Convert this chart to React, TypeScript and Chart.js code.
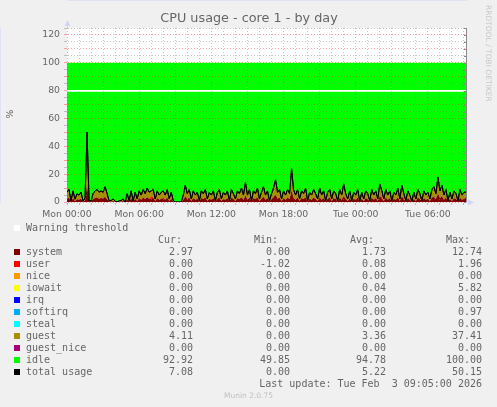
import React, { useEffect, useRef } from "react"
import { Chart, registerables } from "chart.js"

Chart.register(...registerables)

// 10-minute samples starting Mon 00:00 (percent of one core)
const systemVals = [
  2.5, 3.1, 0.3, 2.8, 0.6, 2.0,
  1.8, 2.4, 0.2, 1.1, 12.7, 0.3,
  0.2, 2.1, 2.9, 3.2, 2.4, 2.8,
  2.5, 3.8, 2.0, 0.3, 0.3, 0.8,
  0.2, 0, 0.3, 0.4, 0.8, 0,
  2.1, 0.3, 2.9, 0.2, 2.4, 0.8,
  2.8, 1.7, 3.2, 2.1, 3.5, 2.4,
  2.1, 3.2, 0.8, 2.8, 1.7, 2.4,
  2.8, 1.7, 3.2, 0.8, 2.4, 0.3,
  0, 0, 0, 0, 1.7, 4.2,
  2.1, 3.2, 0.8, 2.8, 1.7, 2.4,
  0.3, 2.8, 2.1, 3.2, 0.8, 2.4,
  1.7, 2.8, 0.3, 2.4, 3.2, 0.8,
  2.4, 1.7, 2.8, 0.3, 3.2, 2.1,
  0.8, 2.8, 2.1, 3.5, 1.7, 4.9,
  1.7, 3.2, 0.3, 2.8, 2.1, 3.5,
  0.8, 2.4, 3.8, 1.7, 2.8, 0.3,
  2.1, 3.5, 5.6, 2.4, 3.2, 0.8,
  2.8, 1.7, 3.2, 2.1, 8.4, 2.8,
  1.7, 3.2, 0.8, 2.8, 2.1, 3.5,
  0.3, 2.4, 1.7, 3.2, 2.1, 0.8,
  3.5, 1.7, 2.8, 0.3, 2.4, 3.2,
  0.8, 2.8, 2.1, 0.3, 3.2, 1.7,
  4.5, 2.1, 0.8, 2.8, 0.3, 2.4,
  1.7, 3.2, 0.2, 2.4, 0.8, 2.8,
  2.1, 0.3, 3.2, 1.7, 2.8, 0.8,
  4.5, 2.4, 0.8, 3.2, 1.7, 2.8,
  0.3, 2.4, 1.7, 3.5, 0.8, 4.2,
  2.1, 0.3, 2.8, 1.7, 0.2, 2.4,
  0.8, 3.2, 2.1, 0.3, 2.8, 1.7,
  2.4, 0.8, 3.2, 3.8, 2.1, 6.3,
  2.8, 4.2, 1.7, 3.2, 0.3, 2.4,
  0.8, 2.8, 2.1, 0.3, 3.2, 1.7,
  2.4, 3.0,
]

const guestVals = [
  4.5, 5.9, 0.6, 5.2, 1.4, 4.0,
  3.2, 4.6, 0.4, 1.9, 37.4, 0.6,
  0.4, 3.9, 5.1, 5.8, 4.6, 5.2,
  4.5, 7.2, 4.0, 0.6, 0.7, 1.4,
  0.4, 0, 0.6, 0.6, 1.4, 0,
  3.9, 0.6, 5.1, 0.4, 4.6, 1.4,
  5.2, 3.3, 5.8, 3.9, 6.5, 4.6,
  3.9, 5.8, 1.4, 5.2, 3.3, 4.6,
  5.2, 3.3, 5.8, 1.4, 4.6, 0.7,
  0, 0, 0, 0, 3.3, 7.8,
  3.9, 5.8, 1.4, 5.2, 3.3, 4.6,
  0.6, 5.2, 3.9, 5.8, 1.4, 4.6,
  3.3, 5.2, 0.6, 4.6, 5.8, 1.4,
  4.6, 3.3, 5.2, 0.6, 5.8, 3.9,
  1.4, 5.2, 3.9, 6.5, 3.3, 9.1,
  3.3, 5.8, 0.6, 5.2, 3.9, 6.5,
  1.4, 4.6, 7.2, 3.3, 5.2, 0.6,
  3.9, 6.5, 10.4, 4.6, 5.8, 1.4,
  5.2, 3.3, 5.8, 3.9, 15.6, 5.2,
  3.3, 5.8, 1.4, 5.2, 3.9, 6.5,
  0.6, 4.6, 3.3, 5.8, 3.9, 1.4,
  6.5, 3.3, 5.2, 0.6, 4.6, 5.8,
  1.4, 5.2, 3.9, 0.6, 5.8, 3.3,
  8.5, 3.9, 1.4, 5.2, 0.6, 4.6,
  3.3, 5.8, 0.4, 4.6, 1.4, 5.2,
  3.9, 0.6, 5.8, 3.3, 5.2, 1.4,
  8.5, 4.6, 1.4, 5.8, 3.3, 5.2,
  0.6, 4.6, 3.3, 6.5, 1.4, 7.8,
  3.9, 0.6, 5.2, 3.3, 0.4, 4.6,
  1.4, 5.8, 3.9, 0.6, 5.2, 3.3,
  4.6, 1.4, 5.8, 7.2, 3.9, 11.7,
  5.2, 7.8, 3.3, 5.8, 0.6, 4.6,
  1.4, 5.2, 3.9, 0.6, 5.8, 3.3,
  4.6, 4.1,
]

// [minute, value]; user is zero elsewhere
const userSpikes: [number, number][] = [
  [420, 1.96],
  [1130, 0.8],
  [1570, 1.2],
]

const xTickLabels = ["Mon 00:00", "Mon 06:00", "Mon 12:00", "Mon 18:00", "Tue 00:00", "Tue 06:00"]
const yTickLabels = ["0", "20", "40", "60", "80", "100", "120"]
const warningLevel = 80

const seriesNames = ["system", "user", "nice", "iowait", "irq", "softirq", "steal", "guest", "guest_nice", "idle", "total usage"]
const seriesColors = ["#800000", "#ff0000", "#ff9900", "#ffff00", "#0000ff", "#00aaff", "#00ffff", "#a89000", "#aa0077", "#00ff00", "#000000"]
const curVals = ["2.97", "0.00", "0.00", "0.00", "0.00", "0.00", "0.00", "4.11", "0.00", "92.92", "7.08"]
const minVals = ["0.00", "-1.02", "0.00", "0.00", "0.00", "0.00", "0.00", "0.00", "0.00", "49.85", "0.00"]
const avgVals = ["1.73", "0.08", "0.00", "0.04", "0.00", "0.00", "0.00", "3.36", "0.00", "94.78", "5.22"]
const maxVals = ["12.74", "1.96", "0.00", "5.82", "0.00", "0.97", "0.00", "37.41", "0.00", "100.00", "50.15"]
const lastUpdate = "Last update: Tue Feb  3 09:05:00 2026"

const FONT = "#666666"
const MAJOR = "rgba(255, 0, 0, 0.35)"
const MINOR = "rgba(128, 128, 128, 0.45)"
const AXIS = "#cfd6f8"

export default function App() {
  const canvasRef = useRef<HTMLCanvasElement>(null)

  useEffect(() => {
    const canvas = canvasRef.current
    if (!canvas) return

    const times = systemVals.map((_, i) => i * 10)
    const userMap = new Map(userSpikes)
    const userVals = times.map((t) => userMap.get(t) ?? 0)
    const totalVals = times.map((_, i) => systemVals[i] + userVals[i] + guestVals[i])
    const idleVals = totalVals.map((v) => 100 - v)
    const pts = (vals: number[]) => vals.map((y, i) => ({ x: times[i], y }))
    const tMax = times[times.length - 1]

    const hourTicks: number[] = []
    for (let t = 0; t <= tMax; t += 60) hourTicks.push(t)
    const yTicks: number[] = []
    for (let v = 0; v <= 125; v += 5) yTicks.push(v)

    // munin/rrdtool decorations: background, arrows, title, watermark
    const decor = {
      id: "munin",
      beforeDraw(chart: any) {
        const { ctx, chartArea: a } = chart
        ctx.save()
        ctx.fillStyle = "#f0f0f0"
        ctx.fillRect(0, 0, chart.width, chart.height)
        ctx.fillStyle = "#ffffff"
        ctx.fillRect(a.left, a.top, a.right - a.left, a.bottom - a.top)
        ctx.restore()
      },
      afterDraw(chart: any) {
        const { ctx, chartArea: a } = chart
        const y = chart.scales.y
        ctx.save()
        // lines sit on top of the grid, as in rrdtool
        ctx.beginPath()
        ctx.rect(a.left, a.top, a.right - a.left, a.bottom - a.top)
        ctx.clip()
        chart.getDatasetMeta(1).dataset.draw(ctx, a)
        chart.getDatasetMeta(0).dataset.draw(ctx, a)
        ctx.restore()

        ctx.save()
        // right frame
        ctx.strokeStyle = "#8a8a8a"
        ctx.lineWidth = 1
        ctx.beginPath()
        ctx.moveTo(a.right + 0.5, a.top)
        ctx.lineTo(a.right + 0.5, a.bottom)
        for (const v of yTicks) {
          const py = Math.round(y.getPixelForValue(v)) + 0.5
          ctx.moveTo(a.right - 2, py)
          ctx.lineTo(a.right + 0.5, py)
        }
        ctx.stroke()
        // axis arrows
        ctx.strokeStyle = AXIS
        ctx.fillStyle = AXIS
        ctx.beginPath()
        ctx.moveTo(a.left + 0.5, a.top)
        ctx.lineTo(a.left + 0.5, a.top - 4)
        ctx.moveTo(a.right, a.bottom + 0.5)
        ctx.lineTo(a.right + 4, a.bottom + 0.5)
        ctx.stroke()
        ctx.beginPath()
        ctx.moveTo(a.left + 0.5, a.top - 8)
        ctx.lineTo(a.left - 2.5, a.top - 2)
        ctx.lineTo(a.left + 3.5, a.top - 2)
        ctx.closePath()
        ctx.fill()
        ctx.beginPath()
        ctx.moveTo(a.right + 8, a.bottom + 0.5)
        ctx.lineTo(a.right + 2, a.bottom - 2.5)
        ctx.lineTo(a.right + 2, a.bottom + 3.5)
        ctx.closePath()
        ctx.fill()
        // title
        ctx.fillStyle = FONT
        ctx.font = "12.8px 'DejaVu Sans', sans-serif"
        ctx.textAlign = "center"
        ctx.textBaseline = "middle"
        ctx.fillText("CPU usage - core 1 - by day", 249, 19)
        // vertical label
        ctx.save()
        ctx.translate(10.5, 114)
        ctx.rotate(-Math.PI / 2)
        ctx.font = "9.3px 'DejaVu Sans', sans-serif"
        ctx.fillText("%", 0, 0)
        ctx.restore()
        // watermark
        ctx.save()
        ctx.translate(487.5, 5)
        ctx.rotate(Math.PI / 2)
        ctx.fillStyle = "#c8c8c8"
        ctx.font = "7.5px 'DejaVu Sans', sans-serif"
        ctx.textAlign = "left"
        ctx.fillText("RRDTOOL / TOBI OETIKER", 0, 0)
        ctx.restore()
        ctx.restore()
      },
    }

    const tickFont = { family: "'DejaVu Sans', sans-serif", size: 9.3 }

    const chart = new Chart(canvas, {
      type: "line",
      data: {
        datasets: [
          { label: "total usage", data: pts(totalVals), borderColor: "#000000", borderWidth: 1, pointRadius: 0, fill: false, stack: "total" },
          {
            label: "Warning threshold",
            data: [{ x: 0, y: warningLevel }, { x: tMax, y: warningLevel }],
            borderColor: "#ffffff",
            borderWidth: 1.5,
            pointRadius: 0,
            fill: false,
            stack: "warning",
          },
          { label: "system", data: pts(systemVals), backgroundColor: seriesColors[0], borderWidth: 0, pointRadius: 0, fill: "origin", stack: "cpu" },
          { label: "user", data: pts(userVals), backgroundColor: seriesColors[1], borderWidth: 0, pointRadius: 0, fill: "stack", stack: "cpu" },
          { label: "guest", data: pts(guestVals), backgroundColor: seriesColors[7], borderWidth: 0, pointRadius: 0, fill: "stack", stack: "cpu" },
          { label: "idle", data: pts(idleVals), backgroundColor: seriesColors[9], borderWidth: 0, pointRadius: 0, fill: "stack", stack: "cpu" },
        ],
      },
      options: {
        animation: false,
        responsive: false,
        events: [],
        layout: { padding: { left: 0, top: 28, right: 31, bottom: 185 } },
        elements: { line: { tension: 0 } },
        plugins: { legend: { display: false }, tooltip: { enabled: false } },
        scales: {
          x: {
            type: "linear",
            min: 0,
            max: tMax,
            afterBuildTicks: (s: any) => {
              s.ticks = hourTicks.map((v) => ({ value: v }))
            },
            afterFit: (s: any) => {
              s.height = 20
            },
            ticks: {
              autoSkip: false,
              maxRotation: 0,
              padding: 4,
              color: FONT,
              font: tickFont,
              callback: (v: any) => (v % 360 === 0 ? xTickLabels[v / 360] : ""),
            },
            grid: {
              z: 1,
              tickLength: 3,
              color: (c: any) => (c.tick && c.tick.value % 180 === 0 ? MAJOR : MINOR),
              tickColor: (c: any) => (c.tick && c.tick.value % 180 === 0 ? MAJOR : MINOR),
            },
            border: { color: AXIS, dash: [1, 2] },
          },
          y: {
            stacked: true,
            min: 0,
            max: 125,
            afterBuildTicks: (s: any) => {
              s.ticks = yTicks.map((v) => ({ value: v }))
            },
            afterFit: (s: any) => {
              s.width = 67
            },
            ticks: {
              autoSkip: false,
              padding: 4,
              color: FONT,
              font: tickFont,
              callback: (v: any) => (v % 20 === 0 ? yTickLabels[v / 20] : ""),
            },
            grid: {
              z: 1,
              tickLength: 3,
              color: (c: any) => (c.tick && c.tick.value % 10 === 0 ? MAJOR : MINOR),
              tickColor: (c: any) => (c.tick && c.tick.value % 10 === 0 ? MAJOR : MINOR),
            },
            border: { color: AXIS, dash: [1, 2] },
          },
        },
      },
      plugins: [decor],
    } as any)

    return () => {
      chart.destroy()
    }
  }, [])

  const mono: React.CSSProperties = {
    position: "absolute",
    font: "10px 'DejaVu Sans Mono', monospace",
    color: FONT,
    lineHeight: "12px",
    whiteSpace: "pre",
  }
  const square = (top: number, color: string): React.CSSProperties => ({
    position: "absolute",
    left: 14,
    top,
    width: 6,
    height: 6,
    background: color,
  })

  return (
    <div style={{ position: "fixed", left: 0, top: 0, width: 497, height: 407, background: "#f0f0f0", overflow: "hidden" }}>
      <canvas ref={canvasRef} width={497} height={407} style={{ display: "block" }} />
      <div style={square(225, "#ffffff")} />
      <div style={{ ...mono, left: 26, top: 221.5 }}>Warning threshold</div>
      <div style={{ ...mono, right: 315, top: 233.5 }}>Cur:</div>
      <div style={{ ...mono, right: 219, top: 233.5 }}>Min:</div>
      <div style={{ ...mono, right: 123, top: 233.5 }}>Avg:</div>
      <div style={{ ...mono, right: 27, top: 233.5 }}>Max:</div>
      {seriesNames.map((name, i) => {
        const top = 245.5 + i * 12
        return (
          <React.Fragment key={name}>
            <div style={square(top + 3.5, seriesColors[i])} />
            <div style={{ ...mono, left: 26, top }}>{name}</div>
            <div style={{ ...mono, right: 304, top }}>{curVals[i]}</div>
            <div style={{ ...mono, right: 207, top }}>{minVals[i]}</div>
            <div style={{ ...mono, right: 111, top }}>{avgVals[i]}</div>
            <div style={{ ...mono, right: 15, top }}>{maxVals[i]}</div>
          </React.Fragment>
        )
      })}
      <div style={{ ...mono, right: 15, top: 377.5 }}>{lastUpdate}</div>
      <div
        style={{
          position: "absolute",
          left: 0,
          width: 497,
          top: 391.3,
          textAlign: "center",
          font: "7.5px 'DejaVu Sans', sans-serif",
          lineHeight: "10px",
          color: "#c0c0c0",
        }}
      >
        Munin 2.0.75
      </div>
    </div>
  )
}
